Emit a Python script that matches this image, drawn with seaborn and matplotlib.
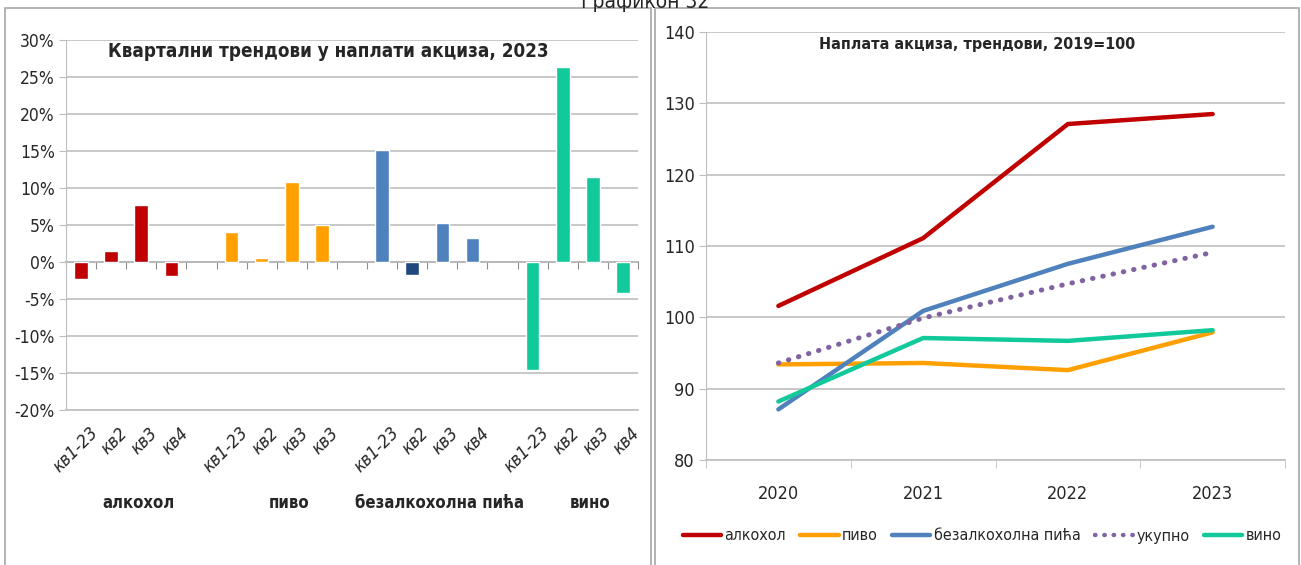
import numpy as np
import pandas as pd
import matplotlib
matplotlib.use('Agg')
import matplotlib.pyplot as plt
from matplotlib.patches import Rectangle
from matplotlib.ticker import PercentFormatter, MultipleLocator, FixedLocator
import seaborn as sns

# ==================== DATA ====================

groups = ['алкохол', 'пиво', 'безалкохолна пића', 'вино']
quarter_labels = {
    'алкохол': ['кв1-23', 'кв2', 'кв3', 'кв4'],
    'пиво': ['кв1-23', 'кв2', 'кв3', 'кв3'],
    'безалкохолна пића': ['кв1-23', 'кв2', 'кв3', 'кв4'],
    'вино': ['кв1-23', 'кв2', 'кв3', 'кв4'],
}
alcohol_q = [-2.3, 1.5, 7.7, -1.9]
beer_q = [4.0, 0.5, 10.8, 5.0]
soft_q = [15.1, -1.8, 5.3, 3.3]
wine_q = [-14.6, 26.4, 11.5, -4.2]

years = ['2020', '2021', '2022', '2023']
alcohol_idx = [101.6, 111.1, 127.1, 128.5]
beer_idx = [93.4, 93.6, 92.6, 97.9]
soft_idx = [87.1, 100.9, 107.5, 112.7]
total_idx = [93.6, 99.9, 104.7, 109.1]
wine_idx = [88.2, 97.1, 96.7, 98.2]

# ==================== STYLE ====================

RED = '#C00000'
ORANGE = '#FFA000'
BLUE = '#4F81BD'
DARK_BLUE = '#1F497D'
TEAL = '#11C99A'
PURPLE = '#8064A2'
GRID = '#BFBFBF'
FRAME = '#A6A6A6'

sns.set_style('white')
plt.rcParams['font.family'] = ['DejaVu Sans']
plt.rcParams['font.stretch'] = 'condensed'
plt.rcParams['axes.unicode_minus'] = False

group_colors = {
    'алкохол': [RED] * 4,
    'пиво': [ORANGE] * 4,
    'безалкохолна пића': [BLUE, DARK_BLUE, BLUE, BLUE],
    'вино': [TEAL] * 4,
}
group_values = {
    'алкохол': alcohol_q,
    'пиво': beer_q,
    'безалкохолна пића': soft_q,
    'вино': wine_q,
}

# build the 19 category slots (4 bars + 1 empty slot per group)
rows = []
for gi, g in enumerate(groups):
    for qi in range(4):
        rows.append({'slot': f's{len(rows)}', 'label': quarter_labels[g][qi],
                     'value': group_values[g][qi], 'color': group_colors[g][qi],
                     'group': g})
    if gi < len(groups) - 1:
        rows.append({'slot': f's{len(rows)}', 'label': '', 'value': np.nan,
                     'color': '#FFFFFF', 'group': ''})
bars_df = pd.DataFrame(rows)

W, H = 1301, 565
fig = plt.figure(figsize=(W / 100, H / 100), dpi=100)

# ==================== LEFT: QUARTERLY BARS ====================

ax1 = fig.add_axes([66 / W, 1 - 410 / H, (638 - 66) / W, (410 - 40) / H])
sns.barplot(data=bars_df, x='slot', y='value', hue='slot',
            palette=dict(zip(bars_df['slot'], bars_df['color'])),
            order=list(bars_df['slot']), legend=False, width=0.45,
            saturation=1, ax=ax1)
n = len(bars_df)
ax1.set_xlim(-0.5, n - 0.5)
ax1.set_ylim(-20, 30)
ax1.yaxis.set_major_locator(MultipleLocator(5))
ax1.yaxis.set_major_formatter(PercentFormatter(decimals=0))
ax1.grid(axis='y', color=GRID, linewidth=1.2)
ax1.set_axisbelow(True)
ax1.set_xlabel('')
ax1.set_ylabel('')
# labels sit a little right of each bar, like the Excel original
ax1.set_xticks(np.arange(n) + 0.25)
ax1.set_xticklabels(bars_df['label'], rotation=45, ha='right',
                    rotation_mode='anchor', fontsize=13, style='italic')
ax1.tick_params(axis='x', length=0, pad=10)
ax1.tick_params(axis='y', length=5, direction='out', color=GRID,
                labelsize=12.5, pad=3, left=True)
for s in ['top', 'right']:
    ax1.spines[s].set_visible(False)
ax1.spines['bottom'].set_color(GRID)
ax1.spines['left'].set_color(GRID)
ax1.spines['bottom'].set_linewidth(1.2)

# zero axis with tick marks between categories
zero_ax = ax1.secondary_xaxis(20 / 50)
zero_ax.xaxis.set_major_locator(FixedLocator(np.arange(-0.5, n, 1.0)))
zero_ax.set_xticklabels([])
zero_ax.tick_params(axis='x', length=5, direction='out', color='#8C8C8C')
zero_ax.spines['bottom'].set_color('#8C8C8C')
zero_ax.spines['bottom'].set_linewidth(1.2)

# group labels under the rotated quarter labels
for gi, g in enumerate(groups):
    center = gi * 5 + 1.5 + 0.4
    ax1.text(center, -0.25, g, transform=ax1.get_xaxis_transform(),
             ha='center', va='center', fontsize=12, fontweight='bold')

ax1.text(0.458, 0.97, 'Квартални трендови у наплати акциза, 2023',
         transform=ax1.transAxes, ha='center', va='center',
         fontsize=13.5, fontweight='bold')

# ==================== RIGHT: INDEX LINES ====================

lines_df = pd.DataFrame({
    'year': years * 5,
    'pos': list(range(4)) * 5,
    'value': alcohol_idx + beer_idx + soft_idx + total_idx + wine_idx,
    'series': (['алкохол'] * 4 + ['пиво'] * 4 + ['безалкохолна пића'] * 4
               + ['укупно'] * 4 + ['вино'] * 4),
})
series_order = ['алкохол', 'пиво', 'безалкохолна пића', 'укупно', 'вино']
series_colors = {'алкохол': RED, 'пиво': ORANGE, 'безалкохолна пића': BLUE,
                 'укупно': PURPLE, 'вино': TEAL}

ax2 = fig.add_axes([706 / W, 1 - 460 / H, (1285 - 706) / W, (460 - 32) / H])
sns.lineplot(data=lines_df, x='pos', y='value', hue='series',
             hue_order=series_order, palette=series_colors,
             linewidth=3.2, legend=False, ax=ax2)
for line, name in zip(ax2.get_lines(), series_order):
    line.set_solid_capstyle('round')
    if name == 'укупно':
        line.set_linestyle((0, (0.1, 2.0)))
        line.set_dash_capstyle('round')
        line.set_linewidth(3.6)

ax2.set_xlim(-0.5, 3.5)
ax2.set_ylim(80, 140)
ax2.yaxis.set_major_locator(MultipleLocator(10))
ax2.set_xticks(range(4))
ax2.set_xticklabels(years)
ax2.xaxis.set_minor_locator(FixedLocator(np.arange(-0.5, 4, 1.0)))
ax2.tick_params(axis='x', which='major', length=0, pad=18, labelsize=13)
ax2.tick_params(axis='x', which='minor', length=6, direction='out',
                color=GRID, bottom=True)
ax2.tick_params(axis='y', length=5, direction='out', color=GRID,
                labelsize=13, pad=3, left=True)
ax2.grid(axis='y', color=GRID, linewidth=1.2)
ax2.set_axisbelow(True)
ax2.set_xlabel('')
ax2.set_ylabel('')
for s in ['top', 'right']:
    ax2.spines[s].set_visible(False)
ax2.spines['bottom'].set_color(GRID)
ax2.spines['left'].set_color(GRID)
ax2.spines['bottom'].set_linewidth(1.2)

ax2.text(0.468, 0.97, 'Наплата акциза, трендови, 2019=100',
         transform=ax2.transAxes, ha='center', va='center',
         fontsize=11.5, fontweight='bold')

handles = [plt.Line2D([], [], color=series_colors[s], linewidth=3.2,
                      solid_capstyle='round') for s in series_order]
handles[3].set_linestyle((0, (0.1, 2.0)))
handles[3].set_dash_capstyle('round')
fig.legend(handles, series_order, loc='center', ncol=5,
           bbox_to_anchor=(982 / W, 1 - 536 / H), frameon=False,
           fontsize=11.5, handlelength=2.4, handletextpad=0.2,
           columnspacing=0.9, borderpad=0)

# ==================== PANEL FRAMES & HEADER ====================

fig.patches.append(Rectangle((5 / W, -0.02), (651 - 5) / W, 1.006,
                             transform=fig.transFigure, fill=False,
                             edgecolor=FRAME, linewidth=1.2))
fig.patches.append(Rectangle((655 / W, -0.02), (1299 - 655) / W, 1.006,
                             transform=fig.transFigure, fill=False,
                             edgecolor=FRAME, linewidth=1.2))
fig.text(645 / W, 0.996, 'Графикон 32', ha='center', va='center', fontsize=15)

fig.savefig('out.png', dpi=100)
